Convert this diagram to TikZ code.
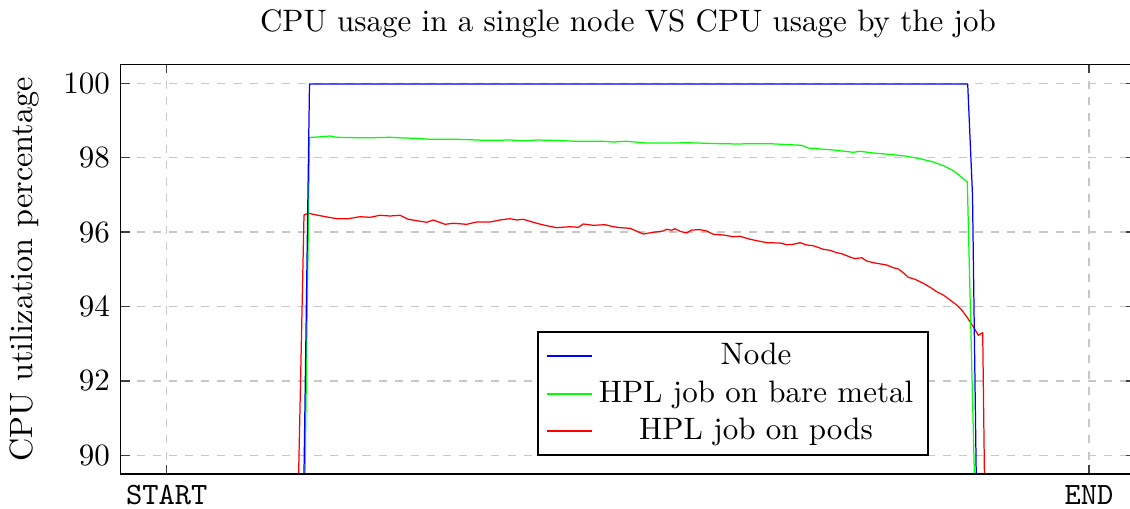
\documentclass[tikz,border=0pt]{standalone}
\usetikzlibrary{fit}
\begin{document}
\begin{tikzpicture}[x=0.3226pt,y=-0.3226pt,
  gridline/.style={black!22,line width=0.4pt,dash pattern=on 2.6pt off 2.6pt},
  tickmark/.style={black!75,line width=0.4pt},
  axisline/.style={black,line width=0.45pt},
  curve/.style={line width=0.4pt,line join=round},
  ylab/.style={anchor=east,inner sep=0pt},
  xlab/.style={anchor=north,inner sep=0pt,font=\ttfamily},
  legtext/.style={anchor=base,inner sep=0pt}]
\useasboundingbox (0,0) rectangle (1130,509);
% axis corners
\coordinate (ll) at (120.7,474);
\coordinate (ur) at (1135,64.7);
% grid
\foreach \v/\y in {100/83.3,98/157.7,96/232.1,94/306.5,92/380.9,90/455.3}{
  \draw[gridline] (120.7,\y) -- (1135,\y);
  \draw[tickmark] (120.7,\y) -- ++(8.8,0);
  \draw[tickmark] (1135,\y) -- ++(-8.8,0);
  \node[ylab] (yt\v) at (110.4,\y) {\v};
}
\foreach \n/\x in {START/166.7,END/1089}{
  \draw[gridline] (\x,64.7) -- (\x,474);
  \draw[tickmark] (\x,474) -- ++(0,-8.8);
  \draw[tickmark] (\x,64.7) -- ++(0,8.8);
  \node[xlab] (xt\n) at (\x,485) {\n};
}
% curves
\begin{scope}
\clip (ll) rectangle (ur);
\draw[curve,red] (298.5,480) -- (304,215) -- (308.3,213.3) -- (320,215.7) -- (336.7,218.7) -- (348.3,218.7) -- (360,216.7) -- (370,217.3) -- (380,215.3) -- (390,216) -- (400,215.3) -- (408.3,219.3) -- (416.7,220.7) -- (426.7,222.3) -- (433.3,220) -- (445,224.3) -- (453.3,223.3) -- (466.7,224.3) -- (476.7,222) -- (490,222) -- (500,220) -- (510,218.7) -- (516.7,220) -- (523.3,219.3) -- (536.7,223.3) -- (546.7,225.7) -- (556.7,227.7) -- (570,226.7) -- (578.3,227.3) -- (583.3,224) -- (593.3,225.3) -- (605,224.7) -- (613.3,226.7) -- (620,227.7) -- (630,228.3) -- (643.3,234) -- (653.3,232.3) -- (663.3,231) -- (666.7,229.3) -- (671.7,230.3) -- (675,228.7) -- (680,231.3) -- (686.7,233) -- (691.7,230) -- (700,229.7) -- (706.7,231) -- (713.3,234.3) -- (723.3,235) -- (733.3,236.7) -- (740,236.3) -- (750,239.3) -- (760,241.3) -- (766.7,242.7) -- (780,243) -- (786.7,244.7) -- (793.3,244.3) -- (800,242.7) -- (806.7,245) -- (813.3,245.7) -- (823.3,249.3) -- (830,250.3) -- (836.7,252.7) -- (841.7,253.7) -- (850,257) -- (855,258.7) -- (861.7,257.7) -- (866.7,261) -- (873.3,262.7) -- (886.7,265) -- (893.3,267.7) -- (898.3,269) -- (903.3,272.7) -- (908.3,277.3) -- (915,279.3) -- (923.3,283.3) -- (931.7,288.3) -- (936.7,291.7) -- (943.3,295) -- (950,300) -- (956.7,305) -- (961.7,310) -- (966.7,316.7) -- (973.3,326.7) -- (978.3,335.3) -- (982.7,332.7) -- (984.5,480);
\draw[curve,green] (305,480) -- (309.5,137.5) -- (321.7,136.7) -- (330,136) -- (336.7,137.3) -- (356.7,137.7) -- (373.3,137.7) -- (390,137.3) -- (403.3,138) -- (416.7,138.3) -- (430,139.3) -- (443.3,139.3) -- (456.7,139.3) -- (470,139.7) -- (483.3,140.3) -- (496.7,140.3) -- (510,140) -- (523.3,140.7) -- (536.7,140) -- (550,140.3) -- (563.3,140.7) -- (576.7,141.3) -- (590,141.3) -- (603.3,141.3) -- (613.3,142) -- (626.7,141.3) -- (646.7,143) -- (673.3,143) -- (686.7,142.7) -- (720,143.7) -- (740,144) -- (746.7,143.7) -- (770,143.7) -- (790,144.7) -- (801.7,145.3) -- (808.3,148) -- (820,149) -- (833.3,150) -- (853.3,152.3) -- (860,151.3) -- (873.3,153) -- (893.3,154.7) -- (906.7,156.3) -- (920,158.7) -- (933.3,162) -- (943.3,165.7) -- (953.3,170.7) -- (960,176) -- (967.3,182) -- (974.5,480);
\draw[curve,blue] (303.9,480) -- (309.5,84) -- (967.7,84) -- (972.5,195) -- (976.3,480);
\end{scope}
% axis box
\draw[axisline] (ll) rectangle (ur);
% labels
\node[anchor=base,inner sep=0pt] (title) at (628,32) {CPU usage in a single node VS CPU usage by the job};
\node[anchor=base,rotate=90,inner sep=0pt,font=\fontsize{10.4}{12}\selectfont] (ylabel) at (32,269.4) {CPU utilization percentage};
% legend
\coordinate (lga) at (538,332);
\coordinate (lgb) at (928,455);
\node[fit=(lga)(lgb),inner sep=0pt,draw=black,fill=white,line width=0.45pt] (legend) {};
\coordinate (l1a) at (547,356); \coordinate (l1b) at (592,356);
\coordinate (l2a) at (547,394); \coordinate (l2b) at (592,394);
\coordinate (l3a) at (547,431); \coordinate (l3b) at (592,431);
\draw[curve,blue] (l1a) -- (l1b);
\draw[curve,green] (l2a) -- (l2b);
\draw[curve,red] (l3a) -- (l3b);
\node[legtext] (lt1) at (756,365) {Node};
\node[legtext] (lt2) at (756,403) {HPL job on bare metal};
\node[legtext] (lt3) at (756,439) {HPL job on pods};
\end{tikzpicture}
\end{document}
